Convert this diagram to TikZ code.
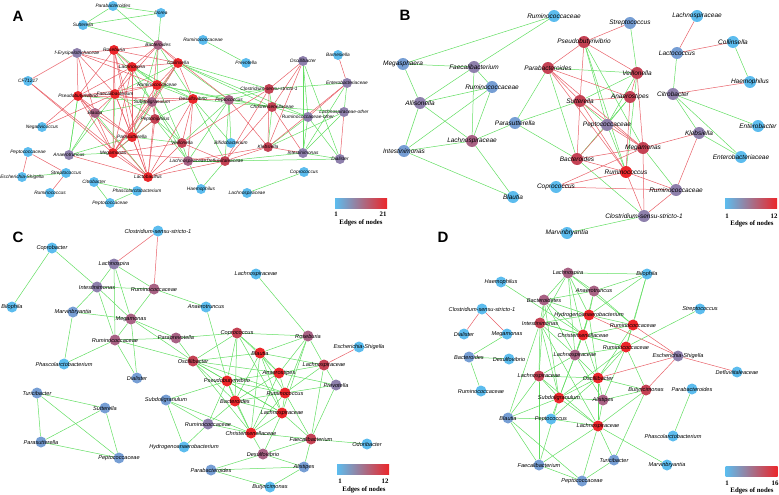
\documentclass[tikz,border=0pt]{standalone}
\usepackage{fontspec}
\setmainfont{Liberation Serif}
\setsansfont{Liberation Sans}
\usetikzlibrary{backgrounds}
\definecolor{cDeg1}{RGB}{92,188,238}
\definecolor{cDeg2}{RGB}{118,158,212}
\definecolor{cDeg3}{RGB}{142,128,172}
\definecolor{cDeg4}{RGB}{168,98,132}
\definecolor{cDeg5}{RGB}{196,66,84}
\definecolor{cDeg6}{RGB}{236,38,42}
\definecolor{cEdgeG}{RGB}{98,222,98}
\definecolor{cEdgeR}{RGB}{232,96,104}
\tikzset{
    vtx/.style={circle, draw=none, minimum size=10pt, inner sep=0pt},
    deg1/.style={vtx, fill=cDeg1},
    deg2/.style={vtx, fill=cDeg2},
    deg3/.style={vtx, fill=cDeg3},
    deg4/.style={vtx, fill=cDeg4},
    deg5/.style={vtx, fill=cDeg5},
    deg6/.style={vtx, fill=cDeg6},
    lbl/.style={font=\fontsize{4.8}{5}\selectfont\sffamily\itshape,
        inner sep=0pt, text=black},
    tx/.style={label={[lbl]center:#1}},
    ge/.style={cEdgeG, line width=0.5pt},
    re/.style={cEdgeR, line width=0.5pt},
    panel/.style={font=\fontsize{15}{15}\selectfont\sffamily\bfseries},
    cbar/.style={minimum width=52pt, minimum height=10pt, inner sep=0pt,
        left color=cDeg1, middle color=cDeg3, right color=cDeg6},
    lgd/.style={font=\fontsize{6.8}{7}\selectfont\bfseries, inner sep=0pt},
    % per-panel sizes
    big/.style={vtx/.append style={minimum size=12pt},
        lbl/.append style={font=\fontsize{6.5}{7}\selectfont\sffamily\itshape}},
    mid/.style={vtx/.append style={minimum size=11pt},
        lbl/.append style={font=\fontsize{5.6}{6}\selectfont\sffamily\itshape}},
}

\begin{document}
\begin{tikzpicture}[x=1pt, y=-1pt]
\useasboundingbox (0,0) rectangle (779,495);

% ================================================================
%  PANEL A
% ================================================================
\node[panel] (pA) at (18,16) {A};
\node[deg1, tx=Parabacteroides] (aPara) at (113,6) {};
\node[deg1, tx=Dorea] (aDore) at (161,13) {};
\node[deg1, tx=Sutterella] (aSutt) at (83,25) {};
\node[deg1, tx=Ruminococcaceae] (aRumT) at (203,40) {};
\node[deg1, tx=Prevotella] (aPrev) at (246,63) {};
\node[deg3, tx=Oscillibacter] (aOsci) at (303,61) {};
\node[deg1, tx=Barnesiella] (aBarn) at (338,55) {};
\node[deg3, tx=Enterobacteriaceae] (aEntb) at (347,83) {};
\node[deg3, tx=Lachnospiraceae-other] (aLacO) at (344,112) {};
\node[deg3, tx=Ruminococcaceae-other] (aRumO) at (308,117) {};
\node[deg5, tx=Clostridium-sensu-stricto-1] (aClos) at (269,89) {};
\node[deg5, tx=Christensenellaceae] (aChri) at (272,107) {};
\node[deg4, tx=Peptococcus] (aPept) at (229,100) {};
\node[deg6, tx=Desulfovibrio] (aDesu) at (193,99) {};
\node[deg3, tx=f-Erysipelotrichaceae] (aErys) at (77,53) {};
\node[deg6, tx=Roseburia] (aRose) at (114,50) {};
\node[deg4, tx=Bacteroides] (aBact) at (158,45) {};
\node[deg6, tx=Collinsella] (aColl) at (178,63) {};
\node[deg6, tx=Lachnospira] (aLacn) at (132,67) {};
\node[deg6, tx=Ruminococcaceae] (aRumM) at (157,85) {};
\node[deg1, tx=CF71217] (aCF) at (28,81) {};
\node[deg6, tx=Pseudobutyrivibrio] (aPseu) at (78,96) {};
\node[deg6, tx=Faecalibacterium] (aFaec) at (115,94) {};
\node[deg4, tx=Subdoligranulum] (aSubd) at (152,102) {};
\node[deg4, tx=Blautia] (aBlau) at (95,113) {};
\node[deg5, tx=Peptoniphilus] (aPpto) at (155,119) {};
\node[deg6, tx=Parasutterella] (aPars) at (132,137) {};
\node[deg5, tx=Veillonella] (aVeil) at (182,143) {};
\node[deg1, tx=Bifidobacterium] (aBifi) at (231,143) {};
\node[deg5, tx=Klebsiella] (aKleb) at (268,147) {};
\node[deg3, tx=Intestinimonas] (aInte) at (303,153) {};
\node[deg3, tx=Dialister] (aDial) at (340,159) {};
\node[deg6, tx=Megamonas] (aMega) at (113,153) {};
\node[deg3, tx=Anaerotruncus] (aAnae) at (69,155) {};
\node[deg4, tx=Lachnospiraceae] (aLach) at (188,161) {};
\node[deg5, tx=Defluviitaleaceae] (aDefl) at (225,161) {};
\node[deg6, tx=Lactobacillus] (aLact) at (148,177) {};
\node[deg1, tx=Negativicoccus] (aNega) at (42,127) {};
\node[deg1, tx=Peptococcaceae] (aPepC) at (28,152) {};
\node[deg1, tx=Escherichia-Shigella] (aEsch) at (22,177) {};
\node[deg1, tx=Streptococcus] (aStre) at (66,173) {};
\node[deg1, tx=Ruminococcus] (aRumc) at (50,193) {};
\node[deg1, tx=Citrobacter] (aCitr) at (94,182) {};
\node[deg1, tx=Phascolarctobacterium] (aPhas) at (137,191) {};
\node[deg1, tx=Peptococcaceae] (aPepB) at (110,203) {};
\node[deg1, tx=Haemophilus] (aHaem) at (201,189) {};
\node[deg1, tx=Lachnospiraceae] (aLacB) at (247,193) {};
\node[deg1, tx=Coprococcus] (aCopr) at (304,172) {};

% legend A
\node[cbar] (aBar) at (361,203) {};
\node[lgd] (aLo) at (336,214) {1};
\node[lgd] (aHi) at (383,214) {21};
\node[lgd] (aTtl) at (361,223) {Edges of nodes};

\begin{scope}[on background layer]
\foreach \u/\v in {aPara/aDore, aPara/aSutt, aPara/aBact, aDore/aSutt, aDore/aBact,
    aSutt/aBact, aRumT/aPrev, aEsch/aStre, aCitr/aPhas, aCitr/aPepB, aPhas/aPepB,
    aHaem/aDefl, aHaem/aLach, aLacB/aCopr, aAnae/aMega, aAnae/aPseu, aAnae/aFaec,
    aOsci/aRumO, aOsci/aInte, aOsci/aDial, aEntb/aClos, aEntb/aInte, aLacO/aChri,
    aLacO/aKleb, aLacO/aInte, aRumO/aChri, aRumO/aKleb, aRumO/aInte, aRumO/aDial,
    aClos/aChri, aClos/aPept, aClos/aDesu, aChri/aPept, aChri/aKleb, aChri/aDesu,
    aInte/aDefl, aInte/aDial, aDial/aDefl, aBifi/aDesu, aColl/aSubd, aColl/aPept,
    aColl/aRumO, aColl/aChri, aColl/aClos, aBact/aRumM, aBact/aDesu, aRumM/aSubd,
    aRumM/aDesu, aRumM/aPept, aRumM/aChri, aRumM/aVeil, aLacn/aSubd, aLacn/aRumM,
    aFaec/aMega, aFaec/aPpto, aSubd/aBlau, aSubd/aPars, aSubd/aVeil, aSubd/aLach,
    aDesu/aDefl, aDesu/aPpto, aBlau/aAnae, aBlau/aLact, aPpto/aVeil, aPpto/aLach,
    aPars/aAnae, aPars/aVeil, aVeil/aLach, aPept/aLach, aPept/aDefl, aPept/aVeil,
    aPept/aBifi, aLach/aDefl, aLacn/aDesu, aRose/aSubd, aRose/aRumM, aColl/aFaec,
    aBact/aPars, aPseu/aSubd, aPseu/aAnae, aLacO/aEntb, aMega/aPpto}
    \draw[ge] (\u) -- (\v);
\foreach \u/\v in {aPepC/aStre, aPepC/aEsch, aStre/aRumc, aBarn/aEntb, aOsci/aClos,
    aOsci/aChri, aOsci/aKleb, aEntb/aRumO, aEntb/aKleb, aLacO/aDial, aClos/aKleb,
    aClos/aDefl, aClos/aVeil, aChri/aInte, aChri/aDefl, aKleb/aInte, aKleb/aDefl,
    aKleb/aLach, aKleb/aPept, aRose/aLacn, aRose/aBact, aRose/aPseu, aRose/aFaec,
    aRose/aMega, aRose/aLact, aRose/aPars, aBact/aColl, aBact/aLacn, aBact/aSubd,
    aBact/aPept, aColl/aLacn, aColl/aRumM, aColl/aDesu, aColl/aPars, aColl/aMega,
    aLacn/aPseu, aLacn/aFaec, aLacn/aPars, aLacn/aMega, aRumM/aPseu, aRumM/aFaec,
    aRumM/aLact, aRumM/aMega, aPseu/aFaec, aPseu/aBlau, aPseu/aMega, aPseu/aLact,
    aPseu/aPars, aFaec/aBlau, aFaec/aSubd, aFaec/aPars, aFaec/aLact, aSubd/aDesu,
    aSubd/aPpto, aSubd/aMega, aDesu/aPept, aDesu/aLact, aDesu/aVeil, aDesu/aLach,
    aBlau/aMega, aBlau/aPars, aPpto/aLact, aPpto/aPars, aPars/aMega, aPars/aLact,
    aMega/aLact, aVeil/aLact, aLach/aLact, aMega/aVeil, aDefl/aLact, aErys/aRose,
    aErys/aLacn, aErys/aPseu, aErys/aBlau, aErys/aFaec, aErys/aCF, aCF/aMega,
    aAnae/aLact, aNega/aPseu, aMega/aDefl, aPseu/aDesu, aRose/aColl, aBact/aFaec,
    aVeil/aDefl, aErys/aRumM, aNega/aFaec, aCF/aLact}
    \draw[re] (\u) -- (\v);
\end{scope}

% ================================================================
%  PANEL B
% ================================================================
\begin{scope}[big]
\node[panel] (pB) at (405,15) {B};
\node[deg1, tx=Ruminococcaceae] (bRumT) at (554,16) {};
\node[deg2, tx=Megasphaera] (bMegs) at (403,64) {};
\node[deg3, tx=Faecalibacterium] (bFaec) at (474,67) {};
\node[deg2, tx=Ruminococcaceae] (bRumA) at (492,87) {};
\node[deg3, tx=Allisonella] (bAlli) at (420,103) {};
\node[deg2, tx=Parasutterella] (bPars) at (515,123) {};
\node[deg4, tx=Lachnospiraceae] (bLach) at (472,141) {};
\node[deg2, tx=Intestinimonas] (bInte) at (404,151) {};
\node[deg1, tx=Blautia] (bBlau) at (513,197) {};
\node[deg1, tx=Coprococcus] (bCopr) at (556,187) {};
\node[deg1, tx=Marvinbryantia] (bMarv) at (567,233) {};
\node[deg5, tx=Parabacteroides] (bPara) at (548,68) {};
\node[deg5, tx=Sutterella] (bSutt) at (580,101) {};
\node[deg5, tx=Bacteroides] (bBact) at (577,159) {};
\node[deg5, tx=Pseudobutyrivibrio] (bPseu) at (584,42) {};
\node[deg2, tx=Streptococcus] (bStre) at (630,23) {};
\node[deg5, tx=Veillonella] (bVeil) at (637,73) {};
\node[deg5, tx=Anaerostipes] (bAnae) at (630,97) {};
\node[deg3, tx=Peptococcaceae] (bPepC) at (607,125) {};
\node[deg5, tx=Megamonas] (bMegm) at (643,148) {};
\node[deg6, tx=Ruminococcus] (bRumc) at (626,172) {};
\node[deg3, tx=Ruminococcaceae] (bRumB) at (676,190) {};
\node[deg3, tx=Clostridium-sensu-stricto-1] (bClos) at (644,216) {};
\node[deg3, tx=Klebsiella] (bKleb) at (699,133) {};
\node[deg3, tx=Citrobacter] (bCitr) at (673,94) {};
\node[deg2, tx=Lactococcus] (bLacc) at (677,53) {};
\node[deg1, tx=Lachnospiraceae] (bLacT) at (697,16) {};
\node[deg1, tx=Collinsella] (bColl) at (733,42) {};
\node[deg1, tx=Haemophilus] (bHaem) at (750,82) {};
\node[deg1, tx=Enterobacter] (bEntr) at (758,126) {};
\node[deg1, tx=Enterobacteriaceae] (bEntb) at (741,157) {};
\end{scope}

% legend B
\node[cbar] (bBar) at (751,203.5) {};
\node[lgd] (bLo) at (727,216) {1};
\node[lgd] (bHi) at (774,216) {12};
\node[lgd] (bTtl) at (752,224) {Edges of nodes};

\begin{scope}[on background layer]
\foreach \u/\v in {bRumT/bMegs, bRumT/bFaec, bMegs/bFaec, bMegs/bAlli, bFaec/bAlli,
    bFaec/bRumA, bFaec/bLach, bRumA/bAlli, bRumA/bInte, bRumA/bLach, bAlli/bInte,
    bAlli/bLach, bInte/bLach, bInte/bBlau, bLach/bBlau, bLach/bPars, bPars/bPara,
    bPars/bBact, bPars/bSutt, bPara/bBact, bPara/bVeil, bPseu/bPepC, bPseu/bMegm,
    bPseu/bRumc, bSutt/bVeil, bSutt/bPepC, bAnae/bPepC, bAnae/bBact, bVeil/bPepC,
    bMegm/bRumB, bMarv/bClos, bBact/bClos, bPepC/bRumc, bCitr/bLacc, bColl/bHaem,
    bCitr/bEntr, bCitr/bEntb, bCitr/bKleb, bKleb/bEntb, bStre/bVeil, bVeil/bRumc}
    \draw[ge] (\u) -- (\v);
\foreach \u/\v in {bPara/bPseu, bPara/bSutt, bPara/bAnae, bPara/bMegm, bPara/bRumc,
    bPseu/bSutt, bPseu/bVeil, bPseu/bStre, bSutt/bBact, bSutt/bAnae, bSutt/bRumc,
    bSutt/bMegm, bBact/bRumc, bBact/bMegm, bBact/bPepC, bVeil/bAnae, bVeil/bMegm,
    bAnae/bRumc, bPepC/bMegm, bMegm/bKleb, bRumc/bClos, bMegm/bClos, bClos/bRumB,
    bRumc/bRumB, bCopr/bRumc, bCopr/bMegm, bCopr/bRumB, bLacc/bLacT, bColl/bLacc,
    bCitr/bHaem, bKleb/bRumB}
    \draw[re] (\u) -- (\v);
\end{scope}

% ================================================================
%  PANEL C
% ================================================================
\begin{scope}[mid]
\node[panel] (pC) at (18,237) {C};
\node[deg1, tx=Clostridium-sensu-stricto-1] (cClos) at (158,231) {};
\node[deg1, tx=Coprobacter] (cCopb) at (52,248) {};
\node[deg3, tx=Lachnospira] (cLacn) at (114,264) {};
\node[deg3, tx=Intestinimonas] (cInte) at (97,287) {};
\node[deg4, tx=Ruminococcaceae] (cRumA) at (154,289) {};
\node[deg1, tx=Bilophila] (cBilo) at (12,307) {};
\node[deg2, tx=Marvinbryantia] (cMarv) at (73,312) {};
\node[deg4, tx=Megamonas] (cMegm) at (131,319) {};
\node[deg4, tx=Ruminococcaceae] (cRumB) at (115,340) {};
\node[deg4, tx=Paraprevotella] (cPapr) at (176,338) {};
\node[deg1, tx=Phascolarctobacterium] (cPhas) at (64,364) {};
\node[deg5, tx=Oscillibacter] (cOsci) at (193,361) {};
\node[deg1, tx=Lachnospiraceae] (cLacT) at (256,274) {};
\node[deg1, tx=Anaerotruncus] (cAnat) at (206,307) {};
\node[deg5, tx=Coprococcus] (cCopr) at (237,333) {};
\node[deg4, tx=Roseburia] (cRose) at (308,336) {};
\node[deg1, tx=Escherichia-Shigella] (cEsch) at (359,347) {};
\node[deg6, tx=Blautia] (cBlau) at (260,353) {};
\node[deg5, tx=Lachnospiraceae] (cLacR) at (324,365) {};
\node[deg2, tx=Dialister] (cDial) at (137,378) {};
\node[deg6, tx=Anaerostipes] (cAnae) at (279,373) {};
\node[deg6, tx=Pseudobutyrivibrio] (cPseu) at (227,381) {};
\node[deg3, tx=Prevotella] (cPrev) at (336,385) {};
\node[deg6, tx=Ruminococcus] (cRumc) at (285,393) {};
\node[deg6, tx=Bacteroides] (cBact) at (235,401) {};
\node[deg6, tx=Lachnospiraceae] (cLacS) at (282,413) {};
\node[deg2, tx=Turicibacter] (cTuri) at (37,393) {};
\node[deg2, tx=Sutterella] (cSutt) at (105,408) {};
\node[deg2, tx=Subdoligranulum] (cSubd) at (166,400) {};
\node[deg3, tx=Ruminococcaceae] (cRumD) at (208,424) {};
\node[deg6, tx=Christensenellaceae] (cChri) at (251,433) {};
\node[deg5, tx=Faecalibacterium] (cFaec) at (311,439) {};
\node[deg1, tx=Odoribacter] (cOdor) at (367,444) {};
\node[deg2, tx=Parasutterella] (cPars) at (41,442) {};
\node[deg1, tx=Hydrogenoanaerobacterium] (cHydr) at (184,447) {};
\node[deg2, tx=Peptococcaceae] (cPepC) at (119,458) {};
\node[deg4, tx=Desulfovibrio] (cDesu) at (263,454) {};
\node[deg2, tx=Alistipes] (cAlis) at (304,467) {};
\node[deg2, tx=Parabacteroides] (cParb) at (211,470) {};
\node[deg1, tx=Butyricimonas] (cButy) at (270,487) {};
\end{scope}

% legend C
\node[cbar] (cBar) at (363,469.5) {};
\node[lgd] (cLo) at (340,481) {1};
\node[lgd] (cHi) at (385,481) {12};
\node[lgd] (cTtl) at (364,490) {Edges of nodes};

\begin{scope}[on background layer]
\foreach \u/\v in {cCopb/cBilo, cCopb/cInte, cLacn/cInte, cLacn/cRumA, cLacn/cMegm,
    cLacn/cRumB, cInte/cRumA, cInte/cMarv, cInte/cMegm, cInte/cRumB, cRumA/cMegm,
    cRumA/cAnat, cMarv/cMegm, cMarv/cPhas, cMegm/cRumB, cMegm/cPapr, cMegm/cOsci,
    cMegm/cDial, cRumB/cPhas, cRumB/cPapr, cRumB/cDial, cPapr/cOsci, cPapr/cCopr,
    cAnat/cPseu, cLacT/cRose, cOsci/cCopr, cOsci/cBlau, cOsci/cPseu, cOsci/cBact,
    cOsci/cAnae, cOsci/cRumc, cOsci/cLacS, cOsci/cChri, cCopr/cBlau, cCopr/cPseu,
    cCopr/cBact, cCopr/cAnae, cCopr/cRose, cCopr/cLacS, cBlau/cRose, cBlau/cAnae,
    cBlau/cRumc, cBlau/cBact, cBlau/cLacR, cBlau/cLacS, cBlau/cChri, cRose/cLacR,
    cRose/cAnae, cRose/cRumc, cRose/cLacS, cLacR/cPrev, cLacR/cRumc, cLacR/cAnae,
    cLacR/cFaec, cAnae/cPseu, cAnae/cRumc, cAnae/cBact, cAnae/cPrev, cAnae/cChri,
    cPseu/cBact, cPseu/cRumc, cPseu/cChri, cPseu/cSubd, cPseu/cLacS, cPrev/cRumc,
    cPrev/cFaec, cRumc/cBact, cRumc/cLacS, cRumc/cChri, cRumc/cFaec, cBact/cLacS,
    cBact/cChri, cBact/cRumD, cLacS/cChri, cLacS/cFaec, cLacS/cDesu, cSubd/cHydr,
    cSubd/cChri, cSubd/cRumD, cRumD/cChri, cRumD/cHydr, cRumD/cPseu, cChri/cFaec,
    cChri/cDesu, cFaec/cOdor, cFaec/cDesu, cFaec/cAlis, cParb/cAlis, cParb/cButy,
    cParb/cDesu, cAlis/cButy, cDesu/cAlis, cTuri/cSutt, cTuri/cPars, cTuri/cPepC,
    cSutt/cPars, cSutt/cPepC, cPars/cPepC, cRumB/cOsci}
    \draw[ge] (\u) -- (\v);
\foreach \u/\v in {cClos/cLacn, cClos/cRumA, cEsch/cLacR}
    \draw[re] (\u) -- (\v);
\end{scope}

% ================================================================
%  PANEL D
% ================================================================
\begin{scope}[mid]
\node[panel] (pD) at (443,237) {D};
\node[deg4, tx=Lachnospira] (dLacn) at (568,273) {};
\node[deg1, tx=Haemophilus] (dHaem) at (501,282) {};
\node[deg4, tx=Bacteroidetes] (dBatt) at (544,300) {};
\node[deg1, tx=Clostridium-sensu-stricto-1] (dClos) at (482,309) {};
\node[deg5, tx=Intestinimonas] (dInte) at (540,323) {};
\node[deg6, tx=Hydrogenoanaerobacterium] (dHydr) at (589,315) {};
\node[deg4, tx=Anaerotruncus] (dAnat) at (594,291) {};
\node[deg6, tx=Christensenellaceae] (dChri) at (583,335) {};
\node[deg1, tx=Dialister] (dDial) at (464,334) {};
\node[deg1, tx=Megamonas] (dMegm) at (507,334) {};
\node[deg2, tx=Bacteroides] (dBact) at (469,357) {};
\node[deg1, tx=Desulfovibrio] (dDesu) at (509,359) {};
\node[deg4, tx=Lachnospiraceae] (dLacP) at (575,355) {};
\node[deg5, tx=Lachnospiraceae] (dLacQ) at (539,376) {};
\node[deg1, tx=Ruminococcaceae] (dRumB) at (481,391) {};
\node[deg6, tx=Subdoligranulum] (dSubd) at (559,398) {};
\node[deg2, tx=Blautia] (dBlau) at (508,418) {};
\node[deg1, tx=Peptococcus] (dPepc) at (551,419) {};
\node[deg2, tx=Faecalibacterium] (dFaec) at (539,465) {};
\node[deg2, tx=Peptococcaceae] (dPepC) at (582,481) {};
\node[deg1, tx=Bilophila] (dBilo) at (647,274) {};
\node[deg6, tx=Ruminococcaceae] (dRumA) at (633,325) {};
\node[deg1, tx=Streptococcus] (dStre) at (700,309) {};
\node[deg6, tx=Ruminococcaceae] (dRumC) at (626,347) {};
\node[deg3, tx=Escherichia-Shigella] (dEsch) at (678,356) {};
\node[deg1, tx=Defluviitaleaceae] (dDefl) at (737,372) {};
\node[deg6, tx=Oscillibacter] (dOsci) at (598,378) {};
\node[deg5, tx=Butyricimonas] (dButy) at (646,390) {};
\node[deg4, tx=Alistipes] (dAlis) at (603,400) {};
\node[deg1, tx=Parabacteroides] (dParb) at (692,389) {};
\node[deg6, tx=Lachnospiraceae] (dLacR) at (598,426) {};
\node[deg1, tx=Phascolarctobacterium] (dPhas) at (673,436) {};
\node[deg2, tx=Turicibacter] (dTuri) at (614,460) {};
\node[deg1, tx=Marvinbryantia] (dMarv) at (667,465) {};
\end{scope}

% legend D
\node[cbar] (dBar) at (751.5,471) {};
\node[lgd] (dLo) at (727,483) {1};
\node[lgd] (dHi) at (775,483) {16};
\node[lgd] (dTtl) at (752,491) {Edges of nodes};

\begin{scope}[on background layer]
\foreach \u/\v in {dMegm/dBact, dBact/dDesu, dBact/dRumB, dHaem/dChri, dStre/dRumC,
    dParb/dPhas, dLacR/dMarv, dTuri/dButy, dTuri/dLacR, dTuri/dPepC, dFaec/dPepC,
    dFaec/dBlau, dFaec/dSubd, dFaec/dLacR, dBlau/dPepc, dBlau/dSubd, dBlau/dLacQ,
    dPepc/dSubd, dPepc/dLacR, dPepc/dOsci, dBilo/dAnat, dBilo/dRumA, dBilo/dHydr,
    dBilo/dLacn, dBilo/dRumC, dLacn/dBatt, dLacn/dInte, dLacn/dHydr, dLacn/dAnat,
    dLacn/dChri, dLacn/dRumA, dLacn/dLacP, dBatt/dInte, dBatt/dHydr, dBatt/dChri,
    dBatt/dAnat, dBatt/dLacQ, dBatt/dSubd, dInte/dHydr, dInte/dChri, dInte/dLacP,
    dInte/dLacQ, dInte/dSubd, dInte/dRumC, dHydr/dAnat, dHydr/dChri, dHydr/dRumA,
    dHydr/dLacP, dHydr/dOsci, dAnat/dRumA, dAnat/dChri, dChri/dLacP, dChri/dRumC,
    dChri/dOsci, dChri/dSubd, dChri/dRumA, dLacP/dLacQ, dLacP/dSubd, dLacP/dOsci,
    dLacP/dRumC, dLacP/dAlis, dLacQ/dSubd, dLacQ/dOsci, dLacQ/dLacR, dSubd/dOsci,
    dSubd/dAlis, dSubd/dLacR, dSubd/dRumC, dRumA/dRumC, dRumA/dOsci, dRumC/dOsci,
    dRumC/dButy, dRumC/dAlis, dOsci/dAlis, dOsci/dButy, dOsci/dLacR, dAlis/dButy,
    dAlis/dLacR, dButy/dLacR, dLacR/dPepC, dInte/dBlau, dBatt/dLacP, dInte/dLacR,
    dLacQ/dFaec, dBlau/dPepC}
    \draw[ge] (\u) -- (\v);
\foreach \u/\v in {dClos/dDial, dClos/dMegm, dHydr/dEsch, dRumA/dEsch, dEsch/dDefl,
    dEsch/dOsci, dEsch/dButy}
    \draw[re] (\u) -- (\v);
\end{scope}

\end{tikzpicture}
\end{document}
